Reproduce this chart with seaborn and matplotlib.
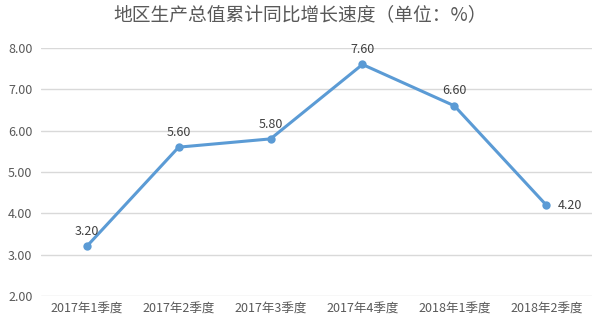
import matplotlib
matplotlib.use("Agg")
import matplotlib.pyplot as plt
import seaborn as sns
import pandas as pd

quarters = ["2017年1季度", "2017年2季度", "2017年3季度", "2017年4季度", "2018年1季度", "2018年2季度"]
growth = [3.20, 5.60, 5.80, 7.60, 6.60, 4.20]
y_ticks = [2.0, 3.0, 4.0, 5.0, 6.0, 7.0, 8.0]

sns.set_theme(style="white")
plt.rcParams['font.family'] = ['Noto Sans CJK SC', 'DejaVu Sans']

df = pd.DataFrame({"quarter": quarters, "growth": growth})
line_color = "#5B9BD5"
text_color = "#595959"

fig = plt.figure(figsize=(6.0, 3.26), dpi=100)
ax = fig.add_axes([0.068, 0.092, 0.919, 0.761])

sns.lineplot(data=df, x="quarter", y="growth", sort=False, ax=ax,
             color=line_color, linewidth=2.2, marker="o", markersize=6,
             markeredgewidth=0, zorder=3)

ax.set_xlim(-0.5, len(quarters) - 0.5)
ax.set_ylim(2.0, 8.0)
ax.set_yticks(y_ticks)
ax.set_yticklabels([f"{v:.2f}" for v in y_ticks])
ax.grid(axis="y", color="#D9D9D9", linewidth=1)
ax.set_axisbelow(True)
for s in ax.spines.values():
    s.set_visible(False)
ax.tick_params(axis="both", length=0, labelsize=9, colors=text_color)
ax.tick_params(axis="x", pad=5)
ax.tick_params(axis="y", pad=6)
ax.set_xlabel("")
ax.set_ylabel("")

for i, v in enumerate(growth):
    if i == len(growth) - 1:
        ax.annotate(f"{v:.2f}", (i, v), xytext=(8, 0), textcoords="offset points",
                    ha="left", va="center", fontsize=9, color="#404040")
    else:
        ax.annotate(f"{v:.2f}", (i, v), xytext=(0, 6), textcoords="offset points",
                    ha="center", va="bottom", fontsize=9, color="#404040")

fig.text(0.5, 0.955, "地区生产总值累计同比增长速度（单位：%）", ha="center", va="center",
         fontsize=13.5, color=text_color)

fig.savefig("out.png", dpi=100)
